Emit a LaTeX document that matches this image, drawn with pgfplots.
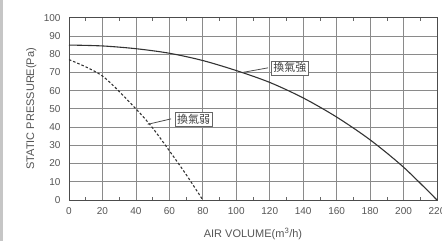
\documentclass[border=0pt]{standalone}
\usepackage{pgfplots}
\pgfplotsset{compat=1.18}
\usepackage{fontspec}
\setmainfont{Liberation Sans}
\newfontfamily\cjk{Noto Sans CJK TC}
\definecolor{txt}{HTML}{555555}
\definecolor{grd}{HTML}{8A8A8A}
\begin{document}
\begin{tikzpicture}[x=1pt,y=1pt]
\path[use as bounding box] (0,0) rectangle (442,241);
\fill[gray!45] (0,0) rectangle (3,241);
\begin{axis}[
  at={(69pt,41pt)}, anchor=origin,
  scale only axis, width=368pt, height=182.3pt,
  xmin=0, xmax=220, ymin=0, ymax=100,
  xtick={0,20,...,220}, ytick={0,10,...,100},
  grid=major,
  major grid style={grd, line width=0.8pt},
  axis line style={black!70, line width=0.8pt},
  tick style={draw=none},
  minor x tick num=1,
  minor tick style={draw=black!60, line width=0.5pt},
  minor tick length=3pt,
  ticklabel style={font=\fontsize{10}{11}\selectfont, text=txt},
  /pgf/number format/assume math mode=true,
  xticklabel style={yshift=-4pt},
  yticklabel style={xshift=-5pt},
  xlabel={AIR VOLUME(m\textsuperscript{3}/h)},
  ylabel={STATIC PRESSURE(Pa)},
  label style={font=\fontsize{11}{12}\selectfont, text=txt},
  xlabel style={at={(axis description cs:0.5,0)}, anchor=north, yshift=-25pt},
  ylabel style={at={(axis description cs:0,0.5)}, anchor=south, xshift=0pt, yshift=29pt},
  clip=false,
]
\addplot[black!80, line width=1.1pt, smooth] coordinates {
 (0,85) (20,84.5) (40,83) (60,80.5) (80,76.5) (100,71) (120,64.5) (140,56) (160,45.5) (180,33) (200,18) (220,0)
};
\addplot[black!80, line width=1.1pt, dashed, dash pattern=on 2.5pt off 2pt, smooth] coordinates {
 (0,77) (20,68) (40,50) (50,39.5) (60,27) (70,14) (80,0)
};
\draw[black!70, line width=0.8pt] (axis cs:104,70) -- (axis cs:119,72.5);
\node[draw=black!60, fill=white, inner sep=1.8pt, font=\cjk\fontsize{11}{12}\selectfont, text=black!75] at (axis cs:132,72.5) {換氣強};
\draw[black!70, line width=0.8pt] (axis cs:47,41.5) -- (axis cs:61,44.5);
\node[draw=black!60, fill=white, inner sep=1.8pt, font=\cjk\fontsize{11}{12}\selectfont, text=black!75] at (axis cs:74.5,44.5) {換氣弱};
\end{axis}
\end{tikzpicture}
\end{document}
